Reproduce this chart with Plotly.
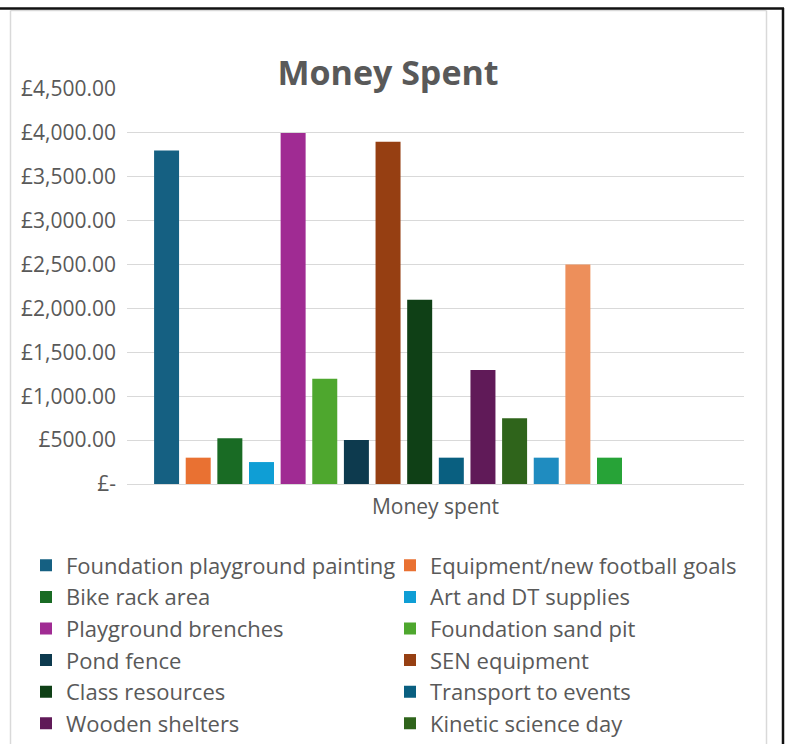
import plotly.graph_objects as go

# ---- data ----
category = ["Money spent"]
items = [
    "Foundation playground painting",
    "Equipment/new football goals",
    "Bike rack area",
    "Art and DT supplies",
    "Playground brenches",
    "Foundation sand pit",
    "Pond fence",
    "SEN equipment",
    "Class resources",
    "Transport to events",
    "Wooden shelters",
    "Kinetic science day",
    "Series 13",
    "Series 14",
    "Series 15",
    "Series 16",
    "Series 17",
    "Series 18",
]
spent = [3800, 300, 520, 250, 4000, 1200, 500, 3900, 2100, 300, 1300, 750,
         300, 2500, 300, None, None, None]
colors = [
    "#156082", "#E97132", "#196B24", "#0F9ED5", "#A02B93", "#4EA72E",
    "#0D3A4E", "#963F12", "#0F4016", "#095F80", "#601A58", "#2F641B",
    "#1F8CC0", "#ED8F5B", "#27A337", "#3FB1E0", "#C846B8", "#71C450",
]
shown_in_legend = 12
y_ticks = [0, 500, 1000, 1500, 2000, 2500, 3000, 3500, 4000, 4500]

# ---- layout geometry (pixels) ----
W, H = 785, 744
L, R, T, B = 127, 41, 89, 260
PW, PH = W - L - R, H - T - B


def px_x(x):
    return (x - L) / PW


def px_y(y):
    return (H - B - y) / PH


FONT = "Open Sans"
GREY = "#595959"

fig = go.Figure()
for i, (name, val, col) in enumerate(zip(items, spent, colors)):
    fig.add_trace(go.Bar(
        x=category,
        y=[val],
        name=name,
        marker=dict(color=col, line=dict(width=0)),
        showlegend=i < shown_in_legend,
    ))


def money(v):
    return "£-" if v == 0 else f"£{v:,.2f}"


fig.update_layout(
    width=W,
    height=H,
    margin=dict(l=L, r=R, t=T, b=B, autoexpand=False),
    paper_bgcolor="white",
    plot_bgcolor="white",
    barmode="group",
    bargap=0.077,
    bargroupgap=0.21,
    font=dict(family=FONT, color=GREY),
    title=dict(
        text="<b>Money Spent</b>",
        font=dict(family=FONT, size=34, color=GREY),
        x=388 / W, xref="container", xanchor="center",
        y=1 - 73 / H, yref="container", yanchor="middle",
    ),
    xaxis=dict(
        showgrid=False,
        showline=False,
        ticks="",
        tickfont=dict(size=21, color=GREY),
        ticklabelstandoff=8,
        fixedrange=True,
    ),
    yaxis=dict(
        range=[0, 4500],
        tickvals=y_ticks,
        ticktext=[money(v) for v in y_ticks],
        tickfont=dict(size=21, color=GREY),
        showgrid=True,
        gridcolor="#D9D9D9",
        gridwidth=1.3,
        zeroline=True,
        zerolinecolor="#D9D9D9",
        zerolinewidth=1.3,
        showline=False,
        ticks="",
        ticklabelstandoff=10,
        fixedrange=True,
    ),
    legend=dict(
        orientation="h",
        xref="paper", yref="paper",
        x=px_x(26), xanchor="left",
        y=px_y(544.5), yanchor="top",
        entrywidth=319, entrywidthmode="pixels",
        font=dict(family=FONT, size=22, color=GREY),
        traceorder="normal",
        bgcolor="rgba(0,0,0,0)",
    ),
    showlegend=True,
)

# chart frame: light grey chart-area border and dark outer edge
frame = [
    dict(x0=px_x(10.5), x1=px_x(10.5), y0=px_y(10.5), y1=px_y(760), color="#D9D9D9", w=1.5),
    dict(x0=px_x(766.5), x1=px_x(766.5), y0=px_y(10.5), y1=px_y(760), color="#D9D9D9", w=1.5),
    dict(x0=px_x(10.5), x1=px_x(766.5), y0=px_y(10.5), y1=px_y(10.5), color="#D9D9D9", w=1.5),
    dict(x0=px_x(-5), x1=px_x(784), y0=px_y(8.5), y1=px_y(8.5), color="#111111", w=2.5),
    dict(x0=px_x(783), x1=px_x(783), y0=px_y(8), y1=px_y(760), color="#111111", w=2.5),
]
for f in frame:
    fig.add_shape(type="line", xref="paper", yref="paper",
                  x0=f["x0"], x1=f["x1"], y0=f["y0"], y1=f["y1"],
                  line=dict(color=f["color"], width=f["w"]))

fig.write_html("out.html")
